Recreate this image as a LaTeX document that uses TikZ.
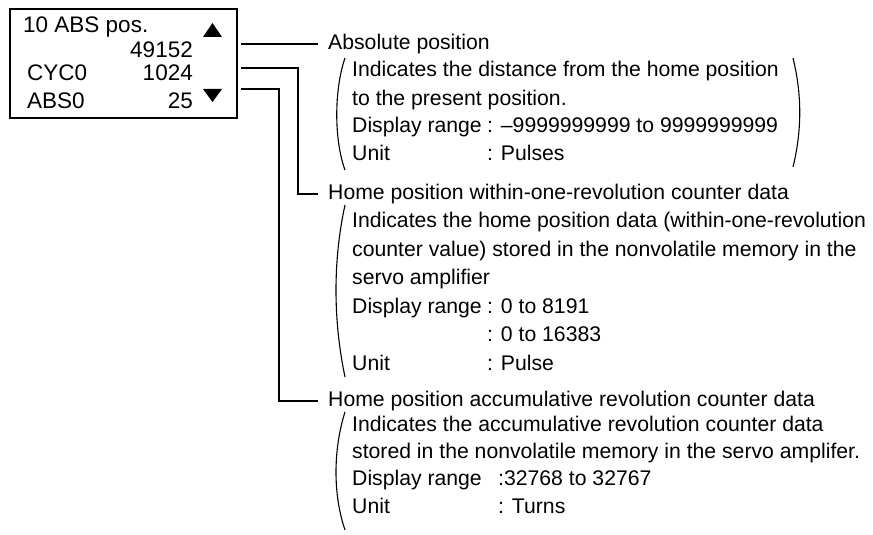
\documentclass[tikz,border=0pt]{standalone}
\usepackage{fontspec}
\setmainfont{Liberation Sans}
\begin{document}
\begin{tikzpicture}[x=1pt,y=-1pt,
  txt/.style={inner sep=0pt, anchor=base west, font=\fontsize{21.2}{25}\selectfont},
  ttl/.style={inner sep=0pt, anchor=west, font=\fontsize{21.2}{25}\selectfont},
  boxtxt/.style={inner sep=0pt, font=\fontsize{22.5}{26}\selectfont},
  conn/.style={line width=1.5pt, shorten >=10pt},
  brk/.style={line width=1.1pt},
  panelbox/.style={draw, line width=1.8pt, minimum width=227pt, minimum height=109pt, inner sep=0pt, anchor=north west}]
\useasboundingbox[fill=white] (0,0) rectangle (873,535);

% display panel
\node[panelbox] (panel) at (9,8) {};
\node[boxtxt, anchor=base west] (p1) at (23,33) {10 ABS pos.};
\node[boxtxt, anchor=base east] (p2) at (193,58) {49152};
\node[boxtxt, anchor=base west] (p3) at (27,81) {CYC0};
\node[boxtxt, anchor=base east] (p4) at (193,81) {1024};
\node[boxtxt, anchor=base west] (p5) at (27,108) {ABS0};
\node[boxtxt, anchor=base east] (p6) at (193,108) {25};
\fill (203,37) -- (222,37) -- (212.5,23) -- cycle;
\fill (203,89) -- (222,89) -- (212.5,102) -- cycle;

% titles
\node[ttl] (t1) at (328,44) {Absolute position};
\node[ttl] (t2) at (328,194) {Home position within-one-revolution counter data};
\node[ttl] (t3) at (328,401) {Home position accumulative revolution counter data};

% connectors
\coordinate (s1) at (241,44);
\coordinate (s2) at (241,68);
\coordinate (s3) at (241,89);
\coordinate (k2) at (298,0);
\coordinate (k3) at (279,0);
\draw[conn] (s1) -- (t1.west);
\draw[conn] (s2) -- (s2 -| k2) |- (t2.west);
\draw[conn] (s3) -- (s3 -| k3) |- (t3.west);

% group 1
\node[txt] (a1) at (352,77) {Indicates the distance from the home position};
\node[txt] (a2) at (352,105) {to the present position.};
\node[txt] (a3) at (352,132) {Display range};
\node[txt] (a3v) at (487,132) {: –9999999999 to 9999999999};
\node[txt] (a4) at (352,160) {Unit};
\node[txt] (a4v) at (487,160) {: Pulses};
\draw[brk] (345,58) .. controls (334,90) and (334,140) .. (345,170);
\draw[brk] (793,58) .. controls (802,95) and (802,130) .. (793,167);

% group 2
\node[txt] (b1) at (352,227) {Indicates the home position data (within-one-revolution};
\node[txt] (b2) at (352,256) {counter value) stored in the nonvolatile memory in the};
\node[txt] (b3) at (352,284.5) {servo amplifier};
\node[txt] (b4) at (352,313) {Display range};
\node[txt] (b4v) at (487,313) {: 0 to 8191};
\node[txt] (b5v) at (487,341.5) {: 0 to 16383};
\node[txt] (b6) at (352,370) {Unit};
\node[txt] (b6v) at (487,370) {: Pulse};
\draw[brk] (345,205) .. controls (333,260) and (333,320) .. (345,377);

% group 3
\node[txt] (c1) at (352,431) {Indicates the accumulative revolution counter data};
\node[txt] (c2) at (352,458) {stored in the nonvolatile memory in the servo amplifer.};
\node[txt] (c3) at (352,485.5) {Display range};
\node[txt] (c3v) at (498,485.5) {:32768 to 32767};
\node[txt] (c4) at (352,513) {Unit};
\node[txt] (c4v) at (498,513) {: Turns};
\draw[brk] (345,412) .. controls (333,450) and (333,495) .. (345,530);
\end{tikzpicture}
\end{document}
